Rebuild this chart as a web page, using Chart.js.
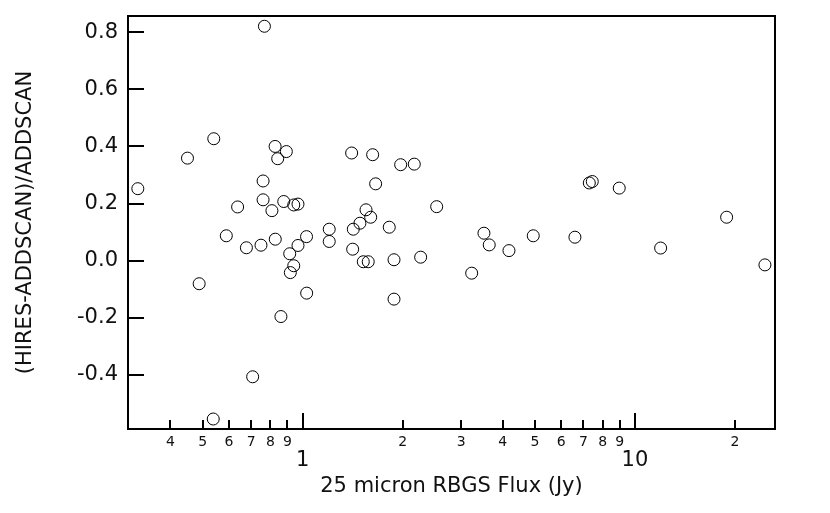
<!DOCTYPE html>
<html>
<head>
<meta charset="utf-8">
<title>HRES vs ADDSCAN</title>
<script src="https://cdn.jsdelivr.net/npm/chart.js@4/dist/chart.umd.min.js"></script>
<style>
  html, body { margin: 0; padding: 0; background: #fff; }
  #wrap { width: 830px; height: 513px; position: relative; }
</style>
</head>
<body>
<div id="wrap"><canvas id="chart"></canvas></div>
<script>
// 25 micron RBGS flux (Jy), one entry per source
const fluxJy = [
  0.319, 0.450, 0.540, 0.488, 0.538, 0.589, 0.637, 0.677, 0.707, 0.749,
  0.760, 0.760, 0.767, 0.808, 0.827, 0.826, 0.893, 0.841, 0.877, 0.940,
  0.968, 0.914, 0.968, 1.027, 0.940, 0.918, 1.028, 0.860, 1.202, 1.202,
  1.404, 1.624, 1.972, 2.167, 1.658, 2.531, 1.551, 1.602, 1.487, 1.420,
  1.822, 1.414, 1.522, 1.575, 1.883, 2.265, 1.883, 3.226, 3.512, 3.643,
  4.177, 4.943, 6.598, 7.289, 7.441, 8.970, 11.95, 18.88, 24.62
];
// (HRES-ADDSCAN)/ADDSCAN for the same sources
const fracDiff = [
  0.252, 0.359, 0.427, -0.081, -0.555, 0.087, 0.188, 0.045, -0.407, 0.054,
  0.279, 0.213, 0.821, 0.175, 0.075, 0.400, 0.382, 0.357, 0.207, 0.195,
  0.198, 0.024, 0.053, 0.084, -0.018, -0.042, -0.114, -0.196, 0.110, 0.067,
  0.377, 0.371, 0.336, 0.338, 0.269, 0.189, 0.178, 0.152, 0.131, 0.110,
  0.117, 0.040, -0.004, -0.004, 0.003, 0.012, -0.135, -0.044, 0.096, 0.055,
  0.035, 0.087, 0.082, 0.272, 0.277, 0.254, 0.044, 0.152, -0.015
];

const xTickValues = [0.4, 0.5, 0.6, 0.7, 0.8, 0.9, 1, 2, 3, 4, 5, 6, 7, 8, 9, 10, 20];
const xMajorValues = [1, 10];
const yTickValues = [-0.4, -0.2, 0, 0.2, 0.4, 0.6, 0.8];

const FONT = 'DejaVu Sans';
Chart.defaults.font.family = FONT;
Chart.defaults.color = '#111';

const isMajor = v => xMajorValues.includes(v);

// inward ticks + box frame, placed through the scales
const frameTicks = {
  id: 'frameTicks',
  afterDraw(chart) {
    const { ctx, chartArea: a, scales: { x, y } } = chart;
    ctx.save();
    ctx.strokeStyle = '#000';
    ctx.lineWidth = 2;
    ctx.beginPath();
    x.ticks.forEach(t => {
      const px = Math.round(x.getPixelForValue(t.value));
      const len = isMajor(t.value) ? 16 : 9;
      ctx.moveTo(px, a.bottom);
      ctx.lineTo(px, a.bottom - len);
    });
    y.ticks.forEach(t => {
      const py = Math.round(y.getPixelForValue(t.value));
      ctx.moveTo(a.left, py);
      ctx.lineTo(a.left + 16, py);
    });
    ctx.stroke();
    ctx.strokeRect(a.left, a.top, a.right - a.left, a.bottom - a.top);
    ctx.restore();
  }
};

new Chart(document.getElementById('chart'), {
  type: 'scatter',
  data: {
    datasets: [{
      data: fluxJy.map((v, i) => ({ x: v, y: fracDiff[i] })),
      pointStyle: 'circle',
      pointRadius: 6,
      pointHoverRadius: 6,
      borderWidth: 1,
      borderColor: '#000',
      backgroundColor: 'rgba(0,0,0,0)',
      clip: false,
    }]
  },
  options: {
    responsive: true,
    maintainAspectRatio: false,
    animation: false,
    layout: { autoPadding: false, padding: { left: 0, top: 16, right: 55, bottom: 0 } },
    plugins: { legend: { display: false }, tooltip: { enabled: false } },
    scales: {
      x: {
        type: 'logarithmic',
        bounds: 'data',
        min: 0.298,
        max: 26.4,
        border: { display: false },
        grid: { display: false, drawTicks: false },
        afterBuildTicks: s => { s.ticks = xTickValues.map(v => ({ value: v })); },
        afterFit: s => { s.height = 84; s.paddingLeft = 0; s.paddingRight = 0; },
        ticks: {
          autoSkip: false,
          maxRotation: 0,
          padding: 5,
          color: '#111',
          font: ctx => (ctx.tick && isMajor(ctx.tick.value))
            ? { family: FONT, size: 21, lineHeight: '18px' }
            : { family: FONT, size: 14 },
          callback: v => {
            if (isMajor(v)) return ['', String(v)];
            return String(Math.round(v / Math.pow(10, Math.floor(Math.log10(v) + 1e-9))));
          }
        },
        title: {
          display: true,
          text: '25 micron RBGS Flux (Jy)',
          color: '#111',
          font: { family: FONT, size: 21 },
          padding: { top: 0, bottom: 14 }
        }
      },
      y: {
        type: 'linear',
        bounds: 'data',
        min: -0.59,
        max: 0.857,
        border: { display: false },
        grid: { display: false, drawTicks: false },
        afterBuildTicks: s => { s.ticks = yTickValues.map(v => ({ value: v })); },
        afterFit: s => { s.width = 128; s.paddingTop = 0; s.paddingBottom = 0; },
        ticks: {
          padding: 10,
          color: '#111',
          font: { family: FONT, size: 21 },
          callback: v => v.toFixed(1)
        },
        title: {
          display: true,
          text: '(HIRES-ADDSCAN)/ADDSCAN',
          color: '#111',
          font: { family: FONT, size: 21 },
          padding: { top: 13, bottom: 0 }
        }
      }
    }
  },
  plugins: [frameTicks]
});
</script>
</body>
</html>
